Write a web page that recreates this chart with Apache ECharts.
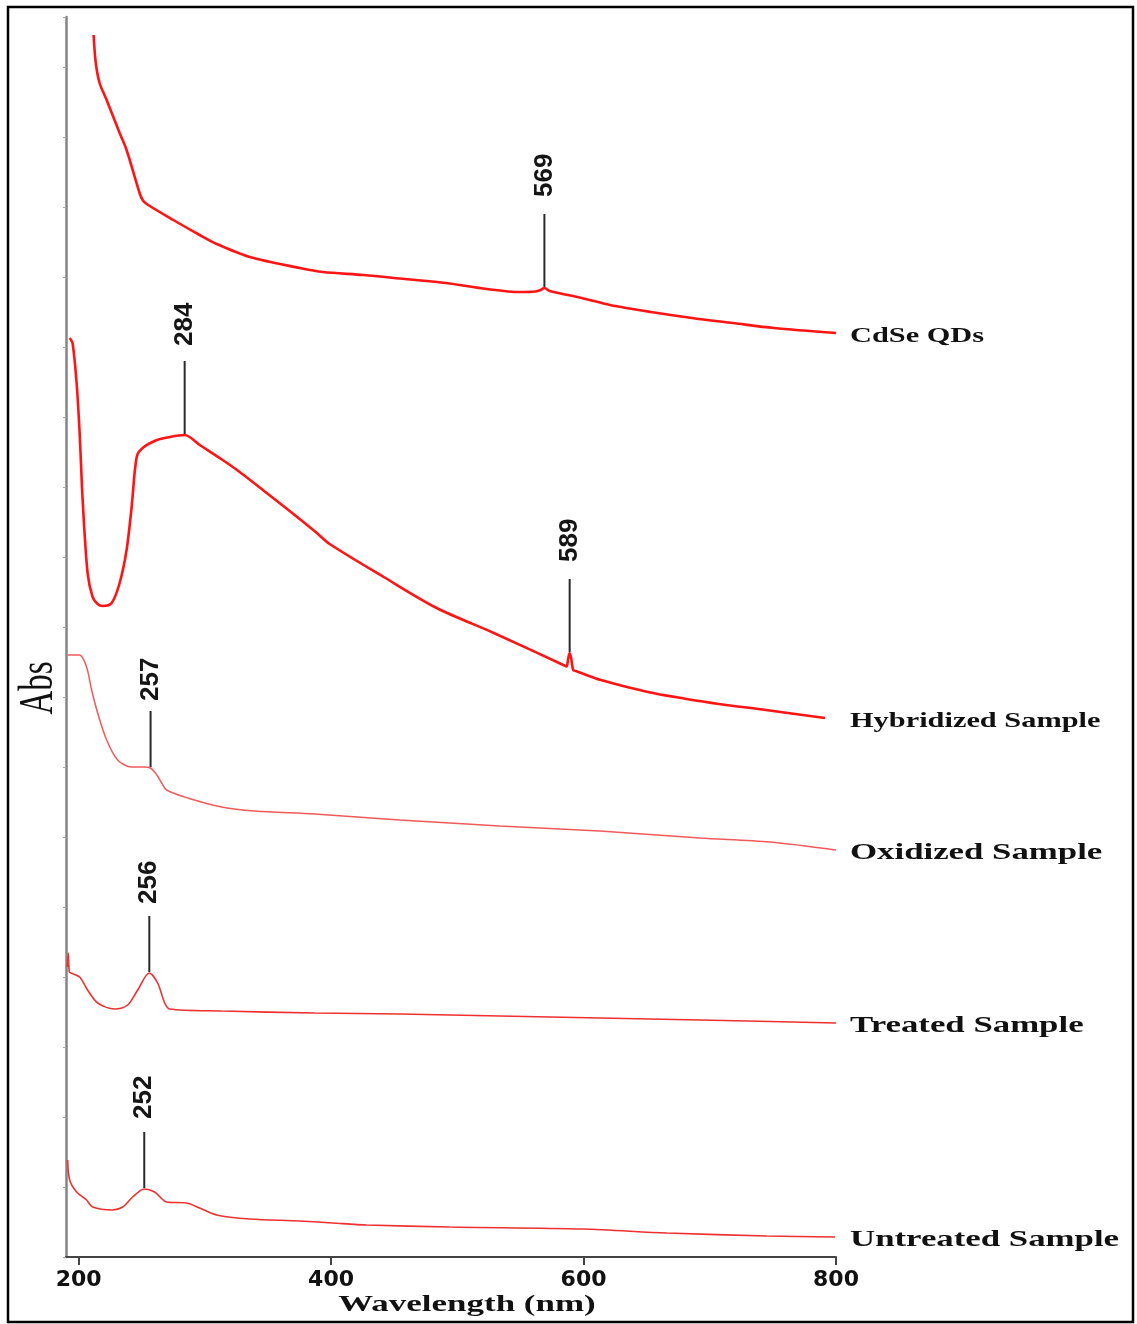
<!DOCTYPE html>
<html>
<head>
<meta charset="utf-8">
<script src="https://cdn.jsdelivr.net/npm/echarts@6/dist/echarts.min.js"></script>
<style>
  html, body { margin: 0; padding: 0; background: #ffffff; }
  #chart { width: 1137px; height: 1324px; }
</style>
</head>
<body>
<div id="chart"></div>
<script>
// UV-Vis absorption spectra, stacked with vertical offsets (arbitrary Abs units)
const wavelengthTicks = [200, 400, 600, 800];

const cdseQDs = [
  [211.9, 12.22], [213.5, 11.95], [216.6, 11.74], [222.2, 11.57], [232.5, 11.24], [238.0, 11.07],
  [248.3, 10.64], [250.7, 10.57], [253.9, 10.53], [275.0, 10.37], [295.9, 10.22],
  [309.4, 10.13], [335.5, 10.00], [375.2, 9.89], [393.4, 9.85], [425.9, 9.82],
  [458.4, 9.78], [490.9, 9.74], [523.4, 9.68], [549.5, 9.65], [562.0, 9.655],
  [566.0, 9.67], [569.0, 9.69], [573.0, 9.66], [582.0, 9.635], [600.0, 9.585],
  [620.9, 9.52], [653.4, 9.45], [685.9, 9.39], [718.3, 9.34], [750.8, 9.29],
  [800.0, 9.24]
];

const hybridizedSample = [
  [192.9, 9.19], [195.2, 9.14], [198.4, 8.74], [200.8, 8.24], [203.2, 7.57],
  [207.1, 6.84], [211.1, 6.60], [215.0, 6.53], [219.0, 6.51], [226.2, 6.54],
  [232.5, 6.74], [238.0, 7.07], [242.0, 7.50], [246.0, 8.00], [250.7, 8.09],
  [262.0, 8.17], [272.0, 8.20], [284.0, 8.22], [296.0, 8.12], [314.1, 7.97],
  [327.6, 7.85], [349.0, 7.64], [367.2, 7.46], [387.8, 7.25], [398.9, 7.13],
  [441.7, 6.80], [483.7, 6.49], [528.9, 6.24], [584.0, 5.92], [586.5, 5.905],
  [587.8, 5.98], [589.0, 6.04], [590.3, 5.98], [591.8, 5.87], [594.0, 5.86],
  [613.7, 5.77], [651.0, 5.65], [679.5, 5.585], [707.3, 5.53], [744.5, 5.47],
  [791.3, 5.39]
];

const oxidizedSample = [
  [191.3, 6.02], [200.8, 6.02], [206.3, 5.90], [210.3, 5.67], [215.1, 5.44],
  [222.2, 5.17], [230.9, 4.97], [242.0, 4.90], [252.0, 4.90], [257.0, 4.89],
  [262.0, 4.82], [265.8, 4.74], [269.7, 4.67], [286.4, 4.59], [313.3, 4.50],
  [339.5, 4.46], [387.0, 4.43], [454.4, 4.37], [533.7, 4.31], [612.9, 4.26],
  [692.2, 4.19], [747.7, 4.15], [800.0, 4.07]
];

const treatedSample = [
  [191.0, 2.90], [191.8, 3.04], [192.6, 2.85], [194.0, 2.84], [200.8, 2.80],
  [207.1, 2.67], [215.1, 2.54], [228.5, 2.48], [238.8, 2.52], [246.8, 2.67],
  [256.0, 2.84], [262.6, 2.74], [268.2, 2.54], [272.1, 2.48], [313.3, 2.46],
  [387.0, 2.44], [454.4, 2.43], [612.9, 2.39], [692.2, 2.37], [800.0, 2.34]
];

const untreatedSample = [
  [191.3, 0.97], [192.9, 0.77], [198.4, 0.65], [206.3, 0.57], [211.1, 0.50],
  [226.9, 0.47], [234.9, 0.50], [242.8, 0.60], [252.0, 0.68], [260.2, 0.65],
  [269.7, 0.55], [285.6, 0.54], [295.9, 0.49], [309.4, 0.42], [335.5, 0.38],
  [375.2, 0.36], [401.3, 0.34], [428.3, 0.32], [494.0, 0.30], [599.5, 0.28],
  [666.0, 0.24], [745.3, 0.21], [799.2, 0.20]
];

const seriesNames = ['CdSe QDs', 'Hybridized Sample', 'Oxidized Sample', 'Treated Sample', 'Untreated Sample'];
const spectra = [cdseQDs, hybridizedSample, oxidizedSample, treatedSample, untreatedSample];

// Marked band positions (nm) and the spectrum each belongs to
const peakWavelengths = [569, 284, 589, 257, 256, 252];
const peakSpectrum = [0, 1, 1, 2, 3, 4];

// Drawing styles
const lineStyles = [
  { color: '#ff1414', width: 2.6 },
  { color: '#ff1414', width: 2.6 },
  { color: '#f15a5a', width: 1.5 },
  { color: '#ee3030', width: 1.6 },
  { color: '#ee3030', width: 1.6 }
];
const stemPx = [74, 74, 74, 57, 57, 57];
const stemGap = [17, 15, 17, 10, 12, 13];
const nameFont = [
  { size: 22, sx: 1.38 }, { size: 22, sx: 1.38 },
  { size: 24, sx: 1.45 }, { size: 24, sx: 1.45 }, { size: 24, sx: 1.45 }
];

function valueAt(data, wl) {
  const hit = data.find(d => d[0] === wl);
  return hit ? hit[1] : null;
}

const peakData = peakWavelengths.map((wl, i) => [wl, valueAt(spectra[peakSpectrum[i]], wl)]);
const nameData = spectra.map(s => [wavelengthTicks[wavelengthTicks.length - 1], s[s.length - 1][1]]);

const chart = echarts.init(document.getElementById('chart'), null, { renderer: 'canvas' });

const lineSeries = spectra.map((data, i) => ({
  name: seriesNames[i],
  type: 'line',
  data: data,
  showSymbol: false,
  smooth: 0.3,
  clip: false,
  lineStyle: { color: lineStyles[i].color, width: lineStyles[i].width },
  itemStyle: { color: lineStyles[i].color },
  z: 3
}));

chart.setOption({
  animation: false,
  backgroundColor: '#ffffff',
  grid: { left: 66, right: 301, top: 17, bottom: 67 },
  xAxis: {
    type: 'value',
    min: 190,
    max: 800,
    axisLine: { show: true, lineStyle: { color: '#444', width: 2 } },
    axisTick: { show: true, length: 8, customValues: wavelengthTicks, lineStyle: { color: '#444', width: 2 } },
    axisLabel: {
      customValues: wavelengthTicks,
      margin: 12,
      color: '#111',
      fontFamily: 'DejaVu Sans',
      fontWeight: 'bold',
      fontSize: 22
    },
    splitLine: { show: false }
  },
  yAxis: {
    type: 'value',
    min: 0,
    max: 12.4,
    interval: 0.7,
    axisLine: { show: true, lineStyle: { color: '#858585', width: 2.5 } },
    axisTick: { show: true, length: 3, lineStyle: { color: '#a5a5a5', width: 1 } },
    axisLabel: { show: false },
    splitLine: { show: false }
  },
  graphic: [
    {
      type: 'rect',
      shape: { x: 8, y: 7, width: 1125, height: 1315 },
      style: { fill: null, stroke: '#000', lineWidth: 2.5 },
      silent: true
    },
    {
      type: 'text',
      x: 39, y: 688,
      rotation: Math.PI / 2,
      scaleY: 1.5,
      style: { text: 'Abs', font: '33px "Liberation Serif"', fill: '#111', align: 'center', verticalAlign: 'middle' },
      silent: true
    },
    {
      type: 'text',
      x: 467, y: 1305,
      scaleX: 1.52,
      style: { text: 'Wavelength (nm)', font: 'bold 23px "Liberation Serif"', fill: '#111', align: 'center', verticalAlign: 'middle' },
      silent: true
    }
  ],
  series: lineSeries.concat([
    {
      name: 'band markers',
      type: 'custom',
      data: peakData,
      clip: false,
      z: 4,
      renderItem: function (params, api) {
        const p = api.coord([api.value(0), api.value(1)]);
        const i = params.dataIndex;
        const top = p[1] - stemPx[i];
        return {
          type: 'group',
          children: [
            {
              type: 'line',
              shape: { x1: p[0], y1: p[1] - 1, x2: p[0], y2: top },
              style: { stroke: '#2a2a2a', lineWidth: 2 }
            },
            {
              type: 'text',
              x: p[0], y: top - stemGap[i],
              rotation: Math.PI / 2,
              style: {
                text: String(peakWavelengths[i]),
                font: 'bold 26px "Liberation Sans"',
                fill: '#151515',
                align: 'left',
                verticalAlign: 'middle'
              }
            }
          ]
        };
      }
    },
    {
      name: 'spectrum names',
      type: 'custom',
      data: nameData,
      clip: false,
      z: 4,
      renderItem: function (params, api) {
        const p = api.coord([api.value(0), api.value(1)]);
        const i = params.dataIndex;
        return {
          type: 'text',
          x: p[0] + 14, y: p[1] + 3,
          scaleX: nameFont[i].sx,
          style: {
            text: seriesNames[i],
            font: 'bold ' + nameFont[i].size + 'px "Liberation Serif"',
            fill: '#111',
            align: 'left',
            verticalAlign: 'middle'
          }
        };
      }
    }
  ])
});
</script>
</body>
</html>
